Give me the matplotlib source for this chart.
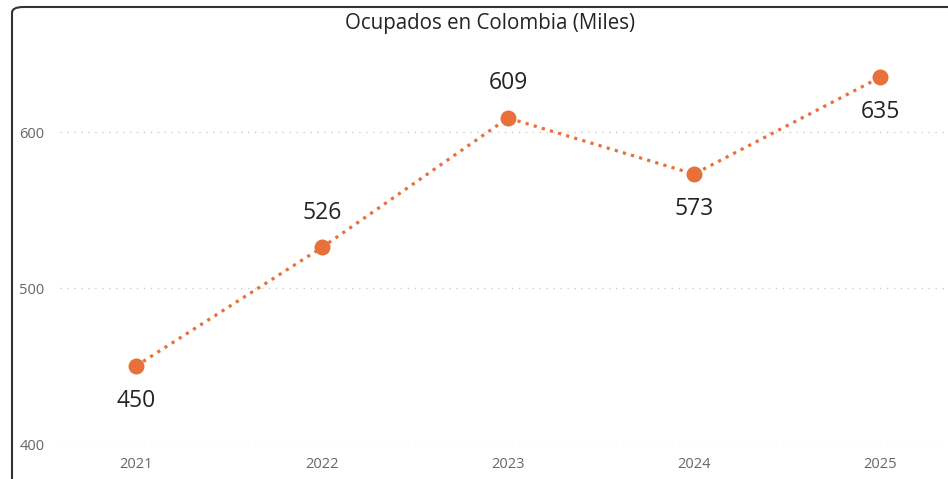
import matplotlib.pyplot as plt
from matplotlib.patches import FancyBboxPatch

# Data
years = [2021, 2022, 2023, 2024, 2025]
ocupados = [450, 526, 609, 573, 635]
label_pos = ['below', 'above', 'above', 'below', 'below']
y_ticks = [400, 500, 600]

orange = '#E8703A'
plt.rcParams['font.family'] = ['Open Sans', 'DejaVu Sans']

fig = plt.figure(figsize=(9.48, 4.79), dpi=100)
W, H = 948, 479

# rounded card border, only top and left visible
border = FancyBboxPatch((12 / W, -0.5), 1.2, 1.5 - 7 / H, boxstyle='round,pad=0,rounding_size=0.012',
                        transform=fig.transFigure, fill=False, edgecolor='#333333', linewidth=1.5)
fig.patches.append(border)

fig.text(490 / W, 1 - 23 / H, 'Ocupados en Colombia (Miles)', ha='center', va='center',
         fontsize=14.8, color='#252423')

ax = fig.add_axes([60 / W, 35 / H, (W - 60) / W, (444 - 38.4) / H])
ax.set_facecolor('none')
ax.plot(years, ocupados, linestyle=':', linewidth=2.3, color=orange, marker='o',
        markersize=11.5, markeredgewidth=0, zorder=3)

for x, y, pos in zip(years, ocupados, label_pos):
    off = 25 if pos == 'above' else -25
    ax.annotate(str(y), (x, y), xytext=(0, off), textcoords='offset points',
                ha='center', va='center', fontsize=16.5, color='#252423')

ax.set_xlim(2021 - 76 / 186, 2021 + (948 - 136) / 186)
ax.set_ylim(400, 660)
ax.set_yticks(y_ticks)
ax.set_xticks(years)
ax.set_xticklabels([str(y) for y in years])
ax.grid(axis='y', linestyle=(0, (1, 4)), color='#CCCCCC', linewidth=1)
ax.set_axisbelow(True)
for s in ax.spines.values():
    s.set_visible(False)
ax.tick_params(axis='both', length=0, labelcolor='#666666', labelsize=10.5)
ax.tick_params(axis='y', pad=11)
ax.tick_params(axis='x', pad=9)

fig.savefig('out.png', dpi=100)
